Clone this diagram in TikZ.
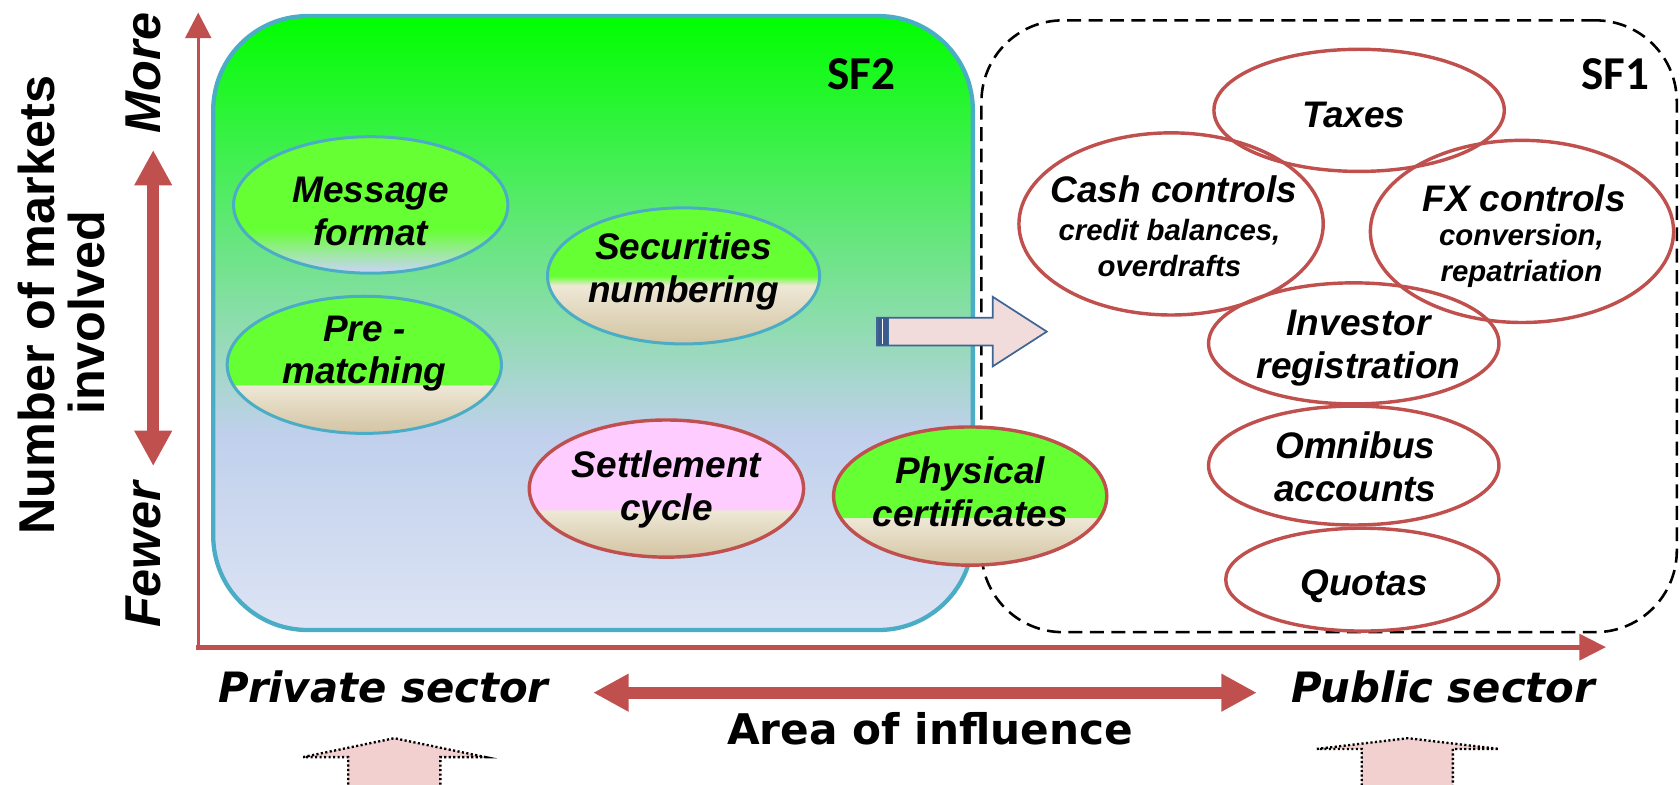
\documentclass[tikz,border=0pt]{standalone}
\usepackage{fontspec}
\setmainfont{Liberation Sans}
\newfontfamily\verdfont{DejaVu Sans}
\newfontfamily\califont{Carlito}
\usetikzlibrary{arrows.meta,shapes.geometric}

\definecolor{axred}{HTML}{C0504D}
\definecolor{sfblue}{HTML}{4BACC6}
\definecolor{ellgreen}{HTML}{66FF33}
\definecolor{ellpink}{HTML}{FFCCFF}
\definecolor{beigeL}{HTML}{EEE8D6}
\definecolor{beigeD}{HTML}{D3C4A2}
\definecolor{ltblue}{HTML}{C6D6F0}
\definecolor{boxgreen}{HTML}{00FF00}
\definecolor{boxblue}{HTML}{C0D0EC}
\definecolor{boxblueL}{HTML}{DDE4F4}
\definecolor{arrfill}{HTML}{F2DCDB}
\definecolor{arrline}{HTML}{3F6594}
\definecolor{arrbar}{HTML}{3B5B8C}
\definecolor{botfill}{HTML}{F2D0D0}

\pgfdeclareverticalshading{sfboxsh}{100bp}{color(0bp)=(boxblueL); color(25bp)=(boxblueL); color(41bp)=(boxblue); color(75bp)=(boxgreen); color(100bp)=(boxgreen)}
\pgfdeclareverticalshading{msgsh}{100bp}{color(0bp)=(ltblue); color(26bp)=(ltblue); color(41bp)=(ellgreen); color(100bp)=(ellgreen)}
\pgfdeclareverticalshading{presh}{100bp}{color(0bp)=(beigeD); color(25bp)=(beigeD); color(42.6bp)=(beigeL); color(42.8bp)=(ellgreen); color(100bp)=(ellgreen)}
\pgfdeclareverticalshading{secsh}{100bp}{color(0bp)=(beigeD); color(25bp)=(beigeD); color(46.5bp)=(beigeL); color(50bp)=(ellgreen); color(100bp)=(ellgreen)}
\pgfdeclareverticalshading{setsh}{100bp}{color(0bp)=(beigeD); color(25bp)=(beigeD); color(42.1bp)=(beigeL); color(42.3bp)=(ellpink); color(100bp)=(ellpink)}
\pgfdeclareverticalshading{physh}{100bp}{color(0bp)=(beigeD); color(25bp)=(beigeD); color(42.1bp)=(beigeL); color(42.3bp)=(ellgreen); color(100bp)=(ellgreen)}

\begin{document}
\begin{tikzpicture}[x=0.5pt,y=-0.5pt,
  ellL/.style={ellipse, draw=sfblue, line width=1.4pt, inner sep=0pt},
  ellLr/.style={ellipse, draw=axred, line width=1.6pt, inner sep=0pt},
  ellR/.style={ellipse, draw=axred, line width=1.6pt, inner sep=0pt},
  etxt/.style={font=\fontsize{17.25}{20}\selectfont\bfseries\itshape, align=center, inner sep=0pt},
  esub/.style={font=\fontsize{13.7}{16.5}\selectfont\bfseries\itshape, align=center, inner sep=0pt},
  sflabel/.style={font=\califont\fontsize{22}{26}\selectfont\bfseries, inner sep=0pt},
  axislbl/.style={font=\fontsize{23.5}{26}\selectfont\bfseries, inner sep=0pt, rotate=90},
  axisend/.style={font=\fontsize{23.5}{26}\selectfont\bfseries\itshape, inner sep=0pt, rotate=90},
  sector/.style={font=\verdfont\fontsize{19.5}{23}\selectfont\bfseries\itshape, inner sep=0pt},
  dblarrow/.style={draw=axred, line width=5.5pt, {Triangle[length=16.5pt,width=16.5pt]}-{Triangle[length=16.5pt,width=16.5pt]}},
  botarrow/.style={fill=botfill, draw=black, line width=1.1pt, dash pattern=on 1pt off 1.1pt},
]
\useasboundingbox (0,0) rectangle (1568,732);

% regions
\node[draw=sfblue, line width=2pt, shading=sfboxsh, rounded corners=44pt,
      minimum width=354.5pt, minimum height=286.5pt, inner sep=0pt] (sf2) at (553.5,301.5) {};
\node[draw=black, line width=1.2pt, dash pattern=on 6.5pt off 3.5pt, rounded corners=38pt,
      minimum width=324.5pt, minimum height=285.5pt, inner sep=0pt] (sf1) at (1240.5,304.5) {};
\node[sflabel] (sf2l) at (804,69) {SF2};
\node[sflabel] (sf1l) at (1507.5,69.5) {SF1};

% left ellipses
\node[ellL, shading=msgsh, minimum width=128pt, minimum height=63.7pt] (msg) at (346,191.3) {};
\node[etxt] (msgt) at (346,197.5) {Message\\format};
\node[ellL, shading=presh, minimum width=128pt, minimum height=64pt] (pre) at (340,340.5) {};
\node[etxt] (pret) at (340,330) {Pre -\\matching};
\node[ellL, shading=secsh, minimum width=127pt, minimum height=63.5pt] (sec) at (638,257.5) {};
\node[etxt] (sect) at (638,253.5) {Securities\\numbering};
\node[ellLr, shading=setsh, minimum width=128pt, minimum height=64pt] (set) at (622,456) {};
\node[etxt] (sett) at (622,456.5) {Settlement\\cycle};

% middle block arrow
\filldraw[fill=arrfill, draw=arrline, line width=0.8pt, line join=miter]
  (818.5,296.5) -- (926.5,296.5) -- (926.5,277) -- (977,309.5) -- (926.5,342) -- (926.5,322.5) -- (818.5,322.5) -- cycle;
\filldraw[fill=arrbar, draw=arrline, line width=0.5pt] (818.5,296.5) rectangle (829,322.5);
\draw[white, line width=0.6pt] (823.7,297.5) -- (823.7,321.5);

\node[ellLr, shading=physh, minimum width=127.5pt, minimum height=64.5pt] (phy) at (905.5,463) {};
\node[etxt] (phyt) at (905.5,459) {Physical\\certificates};

% right ellipses
\node[ellR, minimum width=135.5pt, minimum height=57pt] (tax) at (1268.5,103) {};
\node[etxt] (taxt) at (1263.5,107) {Taxes};
\node[ellR, minimum width=142pt, minimum height=85pt] (cash) at (1093,209) {};
\node[etxt] (casht) at (1095.5,177) {Cash controls};
\node[esub] (cashs) at (1091.5,231.5) {credit balances,\\overdrafts};
\node[ellR, minimum width=141.5pt, minimum height=85pt] (fx) at (1420.5,216) {};
\node[etxt] (fxt) at (1422.5,185) {FX controls};
\node[esub] (fxs) at (1420,239) {conversion,\\repatriation};
\node[ellR, minimum width=135.5pt, minimum height=56.5pt] (inv) at (1263.5,320.5) {};
\node[etxt] (invt) at (1268,325) {Investor\\registration};
\node[ellR, minimum width=135.5pt, minimum height=55.5pt] (omn) at (1263.5,434.5) {};
\node[etxt] (omnt) at (1265,436) {Omnibus\\accounts};
\node[ellR, minimum width=127.5pt, minimum height=48pt] (quo) at (1271.5,541) {};
\node[etxt] (quot) at (1273,547) {Quotas};

% axes
\coordinate (orig) at (185,604);
\coordinate (ytip) at (185,11.7);
\coordinate (xtip) at (1499,604);
\draw[axred, line width=1.6pt, -{Triangle[length=12pt,width=12pt]}] (orig) -- (ytip);
\draw[axred, line width=2.2pt, line cap=rect, -{Triangle[length=12.5pt,width=12pt]}] (orig) -- (xtip);

% axis labels
\node[axislbl] (nummk) at (34,285) {Number of markets};
\node[axislbl] (invl) at (81,292) {involved};
\node[axisend] (more) at (133.5,68) {More};
\node[axisend] (fewer) at (133.5,518) {Fewer};
\coordinate (va1) at (143,140);
\coordinate (va2) at (143,435);
\draw[dblarrow] (va1) -- (va2);

\node[sector] (priv) at (358,641) {Private sector};
\node[sector] (pub) at (1347,641) {Public sector};
\coordinate (ha1) at (553.6,646.5);
\coordinate (ha2) at (1173,646.5);
\draw[dblarrow] (ha1) -- (ha2);
\node[font=\verdfont\fontsize{19.7}{23}\selectfont\bfseries, inner sep=0pt] (area) at (868,680.5) {Area of influence};

% bottom block arrows
\filldraw[botarrow] (283,706.6) -- (368,689) -- (453,706.6) -- (411,706.6) -- (411,745) -- (325,745) -- (325,706.6) -- cycle;
\filldraw[botarrow] (1229,699) -- (1314,689) -- (1399,699) -- (1356,699) -- (1356,745) -- (1271,745) -- (1271,699) -- cycle;
\end{tikzpicture}
\end{document}
